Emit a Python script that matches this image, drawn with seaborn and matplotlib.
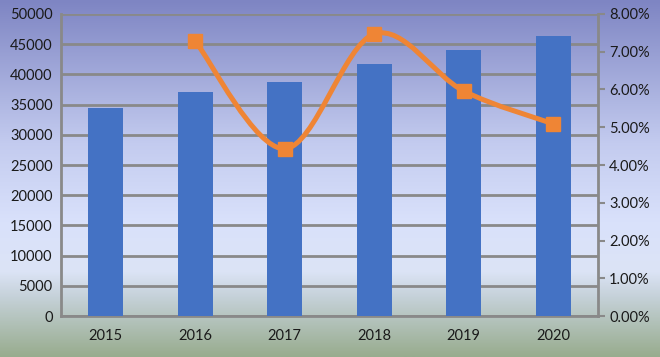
import numpy as np
import pandas as pd
import matplotlib
matplotlib.use('Agg')
import matplotlib.pyplot as plt
import seaborn as sns
from matplotlib.path import Path
from matplotlib.patches import PathPatch
from matplotlib.colors import LinearSegmentedColormap
from matplotlib.ticker import FuncFormatter

# datos
years = ['2015', '2016', '2017', '2018', '2019', '2020']
amount = [34500, 37100, 38700, 41700, 44000, 46400]
growth_years = ['2016', '2017', '2018', '2019', '2020']
growth = [0.0728, 0.0443, 0.0747, 0.0596, 0.0509]

sns.set_style('white')
plt.rcParams['font.family'] = ['Lato', 'DejaVu Sans']

grid_color = '#898989'
bar_color = '#4472C4'
line_color = '#EF8535'

fig = plt.figure(figsize=(6.6, 3.57), dpi=100)

# fondo degradado de toda la figura
bg = fig.add_axes([0, 0, 1, 1], zorder=-10)
cmap = LinearSegmentedColormap.from_list('bg', [
    (0.0, '#7E85C3'), (0.40, '#C3CBEF'), (0.62, '#D9E1FB'),
    (0.76, '#DCE4F6'), (0.83, '#C6D2DA'), (1.0, '#98AC8E')])
grad = np.linspace(0, 1, 256).reshape(-1, 1)
bg.imshow(grad, aspect='auto', cmap=cmap, extent=[0, 1, 0, 1], origin='upper')
bg.axis('off')

ax = fig.add_axes([0.0924, 0.1148, 0.8136, 0.846])
ax.patch.set_alpha(0)

df = pd.DataFrame({'year': years, 'amount': amount})
sns.barplot(data=df, x='year', y='amount', color=bar_color, width=0.39,
            saturation=1, linewidth=0, ax=ax, zorder=3)
ax.set_ylim(0, 50000)
ax.set_yticks(range(0, 50001, 5000))
ax.set_xlim(-0.5, 5.5)
ax.set_xlabel('')
ax.set_ylabel('')
ax.grid(axis='y', color=grid_color, linewidth=2, zorder=0)
ax.set_axisbelow(True)
for s in ['top', 'right']:
    ax.spines[s].set_visible(False)
for s in ['left', 'bottom']:
    ax.spines[s].set_color(grid_color)
    ax.spines[s].set_linewidth(2)
ax.tick_params(axis='both', length=0, labelsize=10.5, colors='#1a1a1a', pad=6)
ax.tick_params(axis='x', pad=9)

ax2 = ax.twinx()
ax2.set_ylim(0, 0.08)
ax2.set_yticks(np.arange(0, 0.0801, 0.01))
ax2.yaxis.set_major_formatter(FuncFormatter(lambda v, p: f'{v * 100:.2f}%'))
for s in ['top', 'left', 'bottom']:
    ax2.spines[s].set_visible(False)
ax2.spines['right'].set_color(grid_color)
ax2.spines['right'].set_linewidth(2)
ax2.tick_params(axis='y', length=5, width=1.5, color=grid_color,
                labelsize=10.5, labelcolor='#1a1a1a', pad=3)

# línea suavizada (bezier tipo Excel)
gx = [years.index(y) for y in growth_years]
pts = np.column_stack([gx, growth])
verts = [pts[0]]
codes = [Path.MOVETO]
n = len(pts)
for i in range(n - 1):
    p0 = pts[max(i - 1, 0)]
    p1 = pts[i]
    p2 = pts[i + 1]
    p3 = pts[min(i + 2, n - 1)]
    c1 = p1 + (p2 - p0) / 6
    c2 = p2 - (p3 - p1) / 6
    verts += [c1, c2, p2]
    codes += [Path.CURVE4] * 3
ax2.add_patch(PathPatch(Path(verts, codes), fill=False, edgecolor=line_color,
                        linewidth=3.6, capstyle='round', zorder=4))
ax2.plot(gx, growth, linestyle='none', marker='s', markersize=10,
         color=line_color, zorder=5)

fig.savefig('out.png', dpi=100)
